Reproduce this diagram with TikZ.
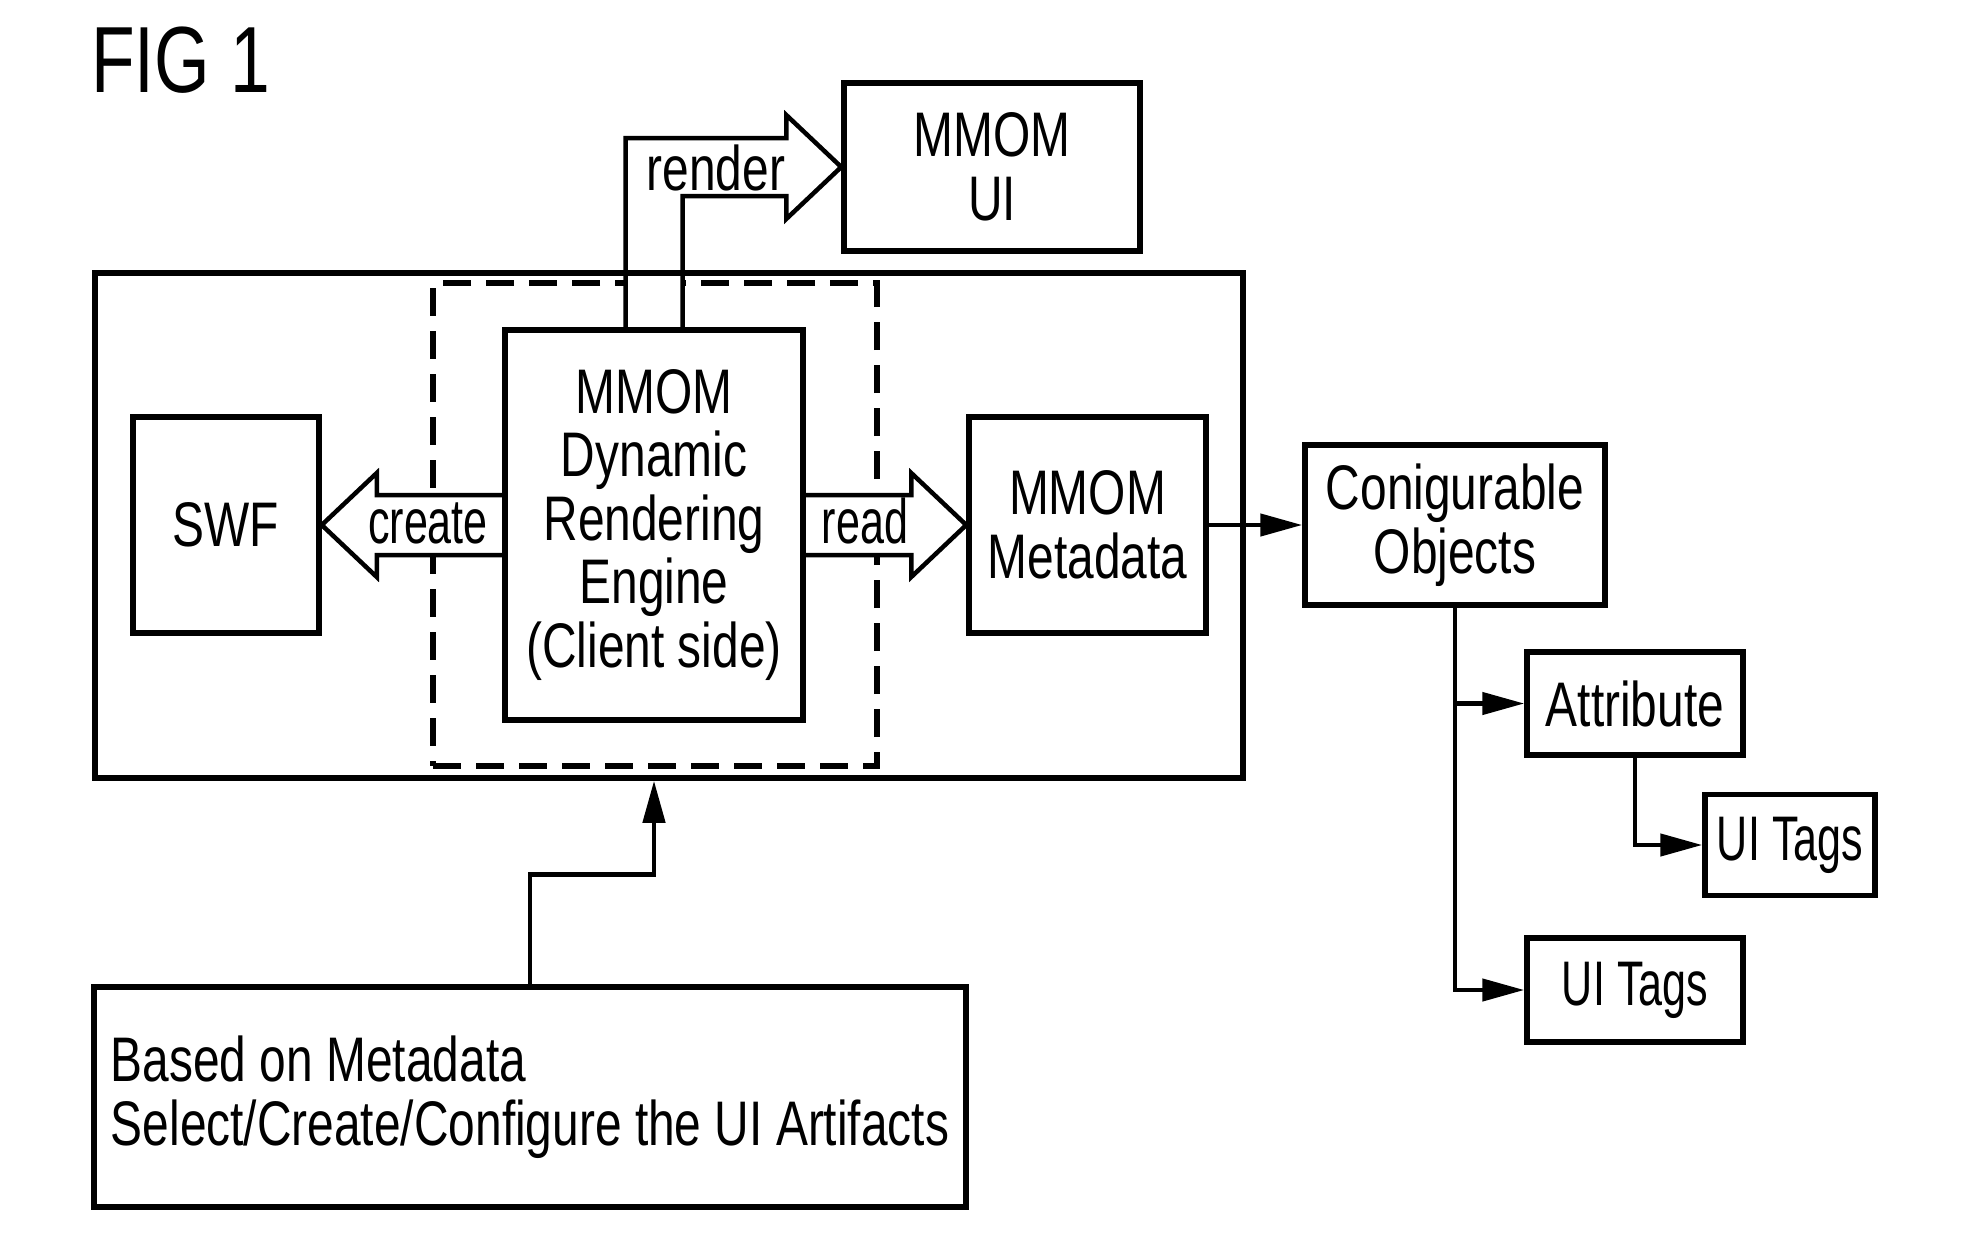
\documentclass[tikz,border=0pt]{standalone}
\usepackage{fontspec}
\setmainfont{Liberation Sans}[FakeStretch=0.76]
\usetikzlibrary{arrows.meta,calc}
\pgfdeclarelayer{background}
\pgfsetlayers{background,main}
\newcommand{\narrowtxt}[1]{\scalebox{0.9}[1]{#1}}
\begin{document}
\begin{tikzpicture}[x=1pt,y=-1pt,
  box/.style={draw, line width=5.5pt, inner sep=0pt, align=center, font=\fontsize{63pt}{63.5pt}\selectfont},
  dashbox/.style={draw, line width=6pt, dash pattern=on 28pt off 15pt, inner sep=0pt},
  lbl/.style={inner sep=0pt, anchor=base, font=\fontsize{63pt}{63.5pt}\selectfont},
  hollow/.style={draw, fill=white, line width=4.5pt, miter limit=20},
  conn/.style={draw, line width=4.5pt},
  tip/.style={-{Triangle[length=42pt,width=22pt]}}
]
\useasboundingbox (0,0) rectangle (1967,1242);

\node[anchor=base west, inner sep=0pt, font=\fontsize{94pt}{94pt}\selectfont] (fig) at (91,92) {FIG 1};

\node[box, minimum width=296pt, minimum height=168pt] (ui) at (992,167) {MMOM\\UI};
\node[box, minimum width=1148pt, minimum height=505pt] (outer) at (669,525.5) {};
\node[box, minimum width=298pt, minimum height=390pt] (dyn) at (654,525) {MMOM\\Dynamic\\Rendering\\Engine\\(Client side)};
\node[box, minimum width=186pt, minimum height=216pt] (swf) at (226,525) {SWF};
\node[box, minimum width=237pt, minimum height=216pt] (meta) at (1087.5,525) {MMOM\\Metadata};
\node[box, minimum width=300pt, minimum height=160pt] (conf) at (1455,525) {Conigurable\\Objects};
\node[box, minimum width=216pt, minimum height=103pt] (attr) at (1635,703.5) {Attribute};
\node[box, minimum width=170pt, minimum height=101pt] (tags1) at (1790,845) {\narrowtxt{UI Tags}};
\node[box, minimum width=216pt, minimum height=104pt] (tags2) at (1635,990) {\narrowtxt{UI Tags}};
\node[box, minimum width=872pt, minimum height=220pt, align=left] (bot) at (530,1097) {Based on Metadata\\Select/Create/Configure the UI Artifacts};

\begin{pgfonlayer}{background}
\node[dashbox, minimum width=444pt, minimum height=483pt] (dashb) at (655,524.5) {};
\path[hollow] ($(dyn.north)+(-28.5,0)$) |- ($(ui.west)+(-55,-29)$) -- ($(ui.west)+(-55,-52)$) -- (ui.west) -- ($(ui.west)+(-55,52)$) -- ($(ui.west)+(-55,29)$) -| ($(dyn.north)+(28.5,0)$);
\path[hollow] ($(dyn.west)+(0,-30)$) -- ($(swf.east)+(55,-30)$) -- ($(swf.east)+(55,-52)$) -- (swf.east) -- ($(swf.east)+(55,52)$) -- ($(swf.east)+(55,30)$) -- ($(dyn.west)+(0,30)$);
\path[hollow] ($(dyn.east)+(0,-30)$) -- ($(meta.west)+(-55,-30)$) -- ($(meta.west)+(-55,-52)$) -- (meta.west) -- ($(meta.west)+(-55,52)$) -- ($(meta.west)+(-55,30)$) -- ($(dyn.east)+(0,30)$);
\end{pgfonlayer}

\node[lbl] (lrender) at (716,190) {render};
\node[lbl] (lcreate) at (428,543) {\narrowtxt{create}};
\node[lbl] (lread) at (865,543) {\narrowtxt{read}};

\draw[conn,tip] (meta.east) -- (conf.west);
\draw[conn,tip] (conf.south) |- (attr.west);
\draw[conn,tip] (conf.south) |- (tags2.west);
\draw[conn,tip] (attr.south) |- (tags1.west);
\coordinate (tgt) at (dyn.south |- outer.south);
\draw[conn,tip] (bot.north) -- ++(0,-110) -| (tgt);
\end{tikzpicture}
\end{document}
